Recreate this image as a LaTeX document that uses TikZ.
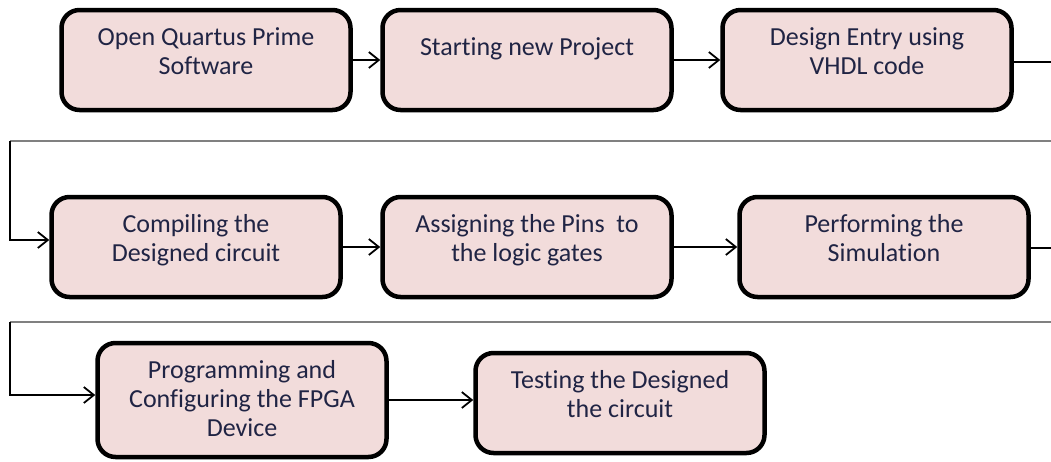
\documentclass[tikz,border=0pt]{standalone}
\usepackage{fontspec}
\setmainfont[Ligatures=NoCommon]{Carlito}
\usetikzlibrary{arrows.meta}
\definecolor{boxpink}{RGB}{242,220,219}
\definecolor{textnavy}{RGB}{32,36,68}

\begin{document}
\begin{tikzpicture}[x=1pt,y=-1pt,
		>={Straight Barb[length=10pt,width=16pt]},
		stepbox/.style={draw, line width=4.5pt, fill=boxpink, rounded corners=18pt,
			minimum width=289pt, minimum height=100pt},
		steptext/.style={anchor=north, yshift=-16pt, align=center, text=textnavy,
			font=\fontsize{26}{29}\selectfont, execute at begin node=\strut},
		flow/.style={line width=1.8pt},
		rowline/.style={line width=1.3pt, draw=gray}]
	\useasboundingbox (0,0) rectangle (1051,461);

	% first row
	\node[stepbox, label={[steptext]north:Open Quartus Prime\\Software}] (open) at (206,60) {};
	\node[stepbox, label={[steptext, yshift=-8pt]north:Starting new Project}] (project) at (527,60) {};
	\node[stepbox, label={[steptext]north:Design Entry using\\VHDL code}] (entry) at (867,60) {};
	\coordinate (out1) at (1051,62);

	% second row
	\node[stepbox, label={[steptext]north:Compiling the\\Designed circuit}] (compile) at (196,247) {};
	\node[stepbox, label={[steptext]north:Assigning the Pins~ to\\the logic gates}] (pins) at (527,247) {};
	\node[stepbox, label={[steptext]north:Performing the\\Simulation}] (sim) at (884,247) {};
	\coordinate (out2) at (1051,248);

	% third row
	\node[stepbox, minimum height=114pt, label={[steptext]north:Programming and\\Configuring the FPGA\\Device}] (fpga) at (242,400) {};
	\node[stepbox, label={[steptext]north:Testing the Designed\\the circuit}] (test) at (620,403) {};

	% row turns
	\coordinate (turn1) at (10,141);
	\coordinate (turn1r) at (1051,141);
	\coordinate (in2) at (10,240);
	\coordinate (turn2) at (10,322);
	\coordinate (turn2r) at (1051,322);
	\coordinate (in3) at (10,395);

	\draw[flow,->] (open) -- (project);
	\draw[flow,->] (project) -- (entry);
	\draw[flow] (entry.east |- out1) -- (out1);
	\draw[rowline] (turn1) -- (turn1r);
	\draw[flow,->] (turn1) -- (in2) -- (in2 -| compile.west);

	\draw[flow,->] (compile) -- (pins);
	\draw[flow,->] (pins) -- (sim);
	\draw[flow] (sim.east |- out2) -- (out2);
	\draw[rowline] (turn2) -- (turn2r);
	\draw[flow,->] (turn2) -- (in3) -- (in3 -| fpga.west);

	\draw[flow,->] (fpga.east) -- (fpga.east -| test.west);
\end{tikzpicture}
\end{document}
